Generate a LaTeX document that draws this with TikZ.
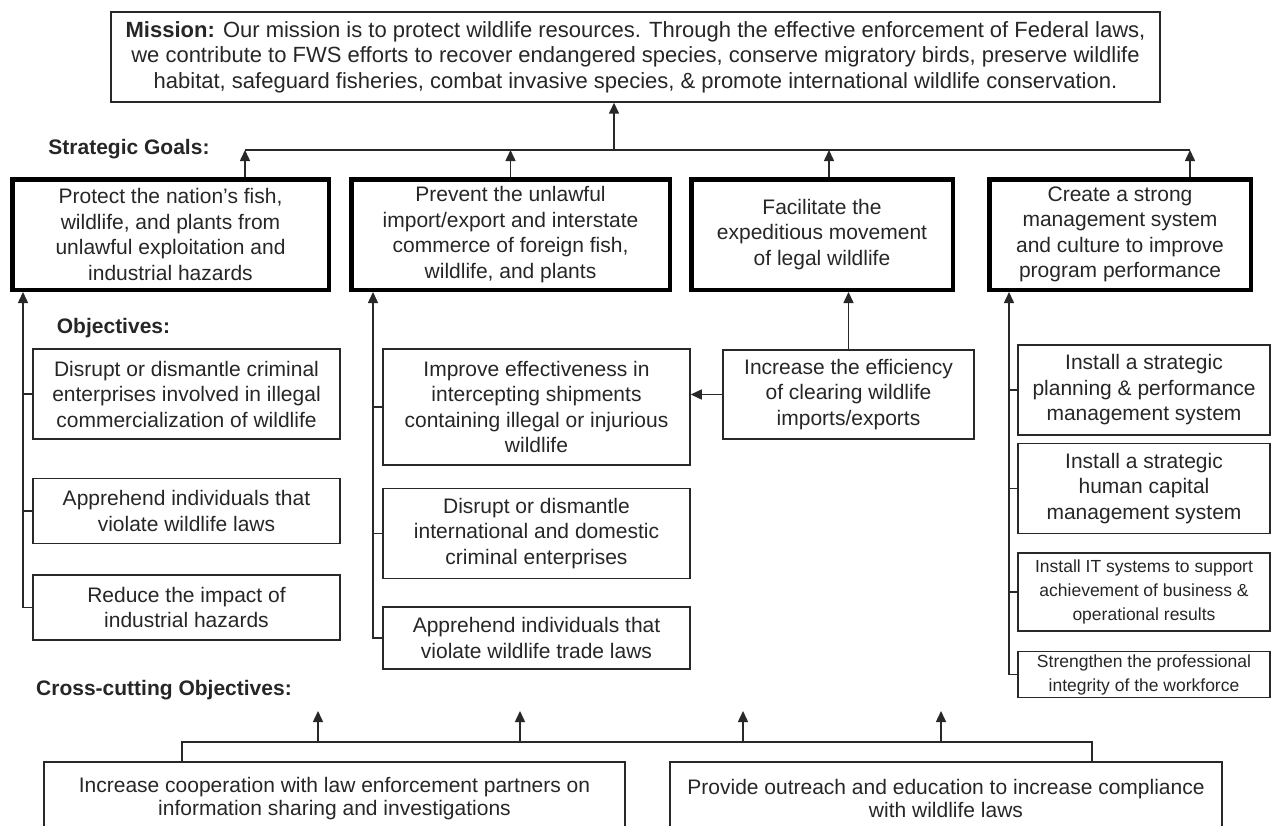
\documentclass[tikz,border=0pt]{standalone}
\usepackage{fontspec}
\setmainfont{Liberation Sans}
\usetikzlibrary{arrows.meta,positioning,calc}
\definecolor{Tinta}{RGB}{38,38,38}
\definecolor{Borde}{RGB}{40,40,40}
\newcommand{\boxfont}{\fontsize{21}{25.5}\selectfont}
\newcommand{\missionfont}{\fontsize{22}{25.5}\selectfont}
\newcommand{\smallboxfont}{\fontsize{17.5}{24}\selectfont}
\newcommand{\crossfont}{\fontsize{21}{23}\selectfont}
\tikzset{
  missionbox/.style={draw=Borde, line width=1.4pt, align=center, minimum width=1049pt,
    minimum height=90pt, inner sep=0pt, text=Tinta, font=\missionfont},
  goalbox/.style={draw=black, line width=4.5pt, align=center, minimum width=#1,
    minimum height=110.5pt, inner sep=0pt, text=Tinta, font=\boxfont},
  goalbox/.default=261.5pt,
  objbox/.style={draw=Borde, line width=1.5pt, align=center, minimum width=#1,
    inner sep=0pt, text=Tinta, font=\boxfont},
  objbox/.default=307pt,
  tinybox/.style={draw=Borde, line width=1.5pt, align=center, minimum width=252pt,
    inner sep=0pt, text=Tinta, font=\smallboxfont},
  crossbox/.style={draw=Borde, line width=1.5pt, align=center, minimum width=#1,
    minimum height=73pt, inner sep=0pt, text=Tinta, font=\crossfont},
  headlabel/.style={inner sep=0pt, text=Tinta, font=\boxfont\bfseries},
  linkline/.style={line width=1.5pt, Borde},
  linkarr/.style={-{Triangle[length=11pt, width=10pt]}, line width=1.5pt, Borde},
}
\begin{document}
\begin{tikzpicture}[x=1pt, y=-1pt]
  \useasboundingbox (0,0) rectangle (1271,825);
  % ---- mision ----
  \node[missionbox] (mision) at (635.5,57) {\textbf{Mission:} Our mission is to protect wildlife resources. Through the effective enforcement of Federal laws,\\
    we contribute to FWS efforts to recover endangered species, conserve migratory birds, preserve wildlife\\
    habitat, safeguard fisheries, combat invasive species, \& promote international wildlife conservation.};

  % ---- metas estrategicas ----
  \node[headlabel] (lblgoals) at (129,149) {Strategic Goals:};
  \node[goalbox=316.5pt] (g1) at (170.5,234.5) {Protect the nation’s fish,\\ wildlife, and plants from\\ unlawful exploitation and\\ industrial hazards};
  \node[goalbox=318.5pt] (g2) at (510.5,234.5) {Prevent the unlawful\\ import/export and interstate\\ commerce of foreign fish,\\ wildlife, and plants};
  \node[goalbox] (g3) at (822,234.5) {Facilitate the\\ expeditious movement\\ of legal wildlife};
  \node[goalbox] (g4) at (1120,234.5) {Create a strong\\ management system\\ and culture to improve\\ program performance};

  \coordinate (busL) at (245,150);
  \coordinate (busM) at (614,150);
  \coordinate (busR) at (1190,150);
  \draw[linkline] (busL) -- (busR);
  \draw[linkarr] (busM) -- (mision.south -| busM);
  \draw[linkarr] (g1.north -| busL) -- (busL);
  \draw[linkarr] (g2.north) -- (g2.north |- busL);
  \draw[linkarr] ([xshift=7pt]g3.north) -- ([xshift=7pt]g3.north |- busL);
  \draw[linkarr] (g4.north -| busR) -- (busR);

  % ---- objetivos ----
  \node[headlabel] (lblobj) at (113.5,328) {Objectives:};
  \node[objbox, minimum height=90pt] (o11) at (186.5,394) {Disrupt or dismantle criminal\\ enterprises involved in illegal\\ commercialization of wildlife};
  \node[objbox, minimum height=65pt, below=38pt of o11] (o12) {Apprehend individuals that\\ violate wildlife laws};
  \node[objbox, minimum height=65pt, below=30pt of o12] (o13) {Reduce the impact of\\ industrial hazards};

  \node[objbox, minimum height=116pt] (o21) at (536.5,407) {Improve effectiveness in\\ intercepting shipments\\ containing illegal or injurious\\ wildlife};
  \node[objbox, minimum height=90pt, below=22pt of o21] (o22) {Disrupt or dismantle\\ international and domestic\\ criminal enterprises};
  \node[objbox, minimum height=62pt, below=27pt of o22] (o23) {Apprehend individuals that\\ violate wildlife trade laws};

  \node[objbox=251pt, minimum height=89pt] (o31) at (848.5,394.5) {Increase the efficiency\\ of clearing wildlife\\ imports/exports};

  \node[objbox=252pt, minimum height=90pt] (o41) at (1144,390) {Install a strategic\\ planning \& performance\\ management system};
  \node[objbox=252pt, minimum height=90pt, below=7pt of o41] (o42) {Install a strategic\\ human capital\\ management system};
  \node[tinybox, minimum height=78pt, below=18pt of o42] (o43) {Install IT systems to support\\ achievement of business \&\\ operational results};
  \node[tinybox, minimum height=46pt, below=19pt of o43] (o44) {Strengthen the professional\\ integrity of the workforce};

  % rieles verticales de cada columna
  \coordinate (rail1) at (23,300);
  \coordinate (rail2) at (373,300);
  \coordinate (rail4) at (1009,300);
  \draw[linkarr] (o13.west) -| (g1.south -| rail1);
  \foreach \o in {o11,o12} \draw[linkline] (\o.west) -- (\o.west -| rail1);
  \draw[linkarr] (o23.west) -| (g2.south -| rail2);
  \foreach \o in {o21,o22} \draw[linkline] (\o.west) -- (\o.west -| rail2);
  \draw[linkarr] (o44.west) -| (g4.south -| rail4);
  \foreach \o in {o41,o42,o43} \draw[linkline] (\o.west) -- (\o.west -| rail4);
  \draw[linkarr] (o31.west) -- (o31.west -| o21.east);
  \draw[linkarr] (o31.north) -- (o31.north |- g3.south);

  % ---- objetivos transversales ----
  \node[headlabel] (lblcross) at (164,690) {Cross-cutting Objectives:};
  \node[crossbox=581pt] (c1) at (334.5,798.5) {Increase cooperation with law enforcement partners on\\ information sharing and investigations};
  \node[crossbox=552pt] (c2) at (946,798.5) {Provide outreach and education to increase compliance\\ with wildlife laws};

  \coordinate (cbL) at (182,742);
  \coordinate (cbR) at (1092,742);
  \draw[linkline] (c1.north -| cbL) -- (cbL) -- (cbR) -- (c2.north -| cbR);
  \foreach \x [count=\i] in {318,520,743,941} {
    \coordinate (up\i) at (\x,711);
    \draw[linkarr] (up\i |- cbL) -- (up\i);
  }
\end{tikzpicture}
\end{document}
